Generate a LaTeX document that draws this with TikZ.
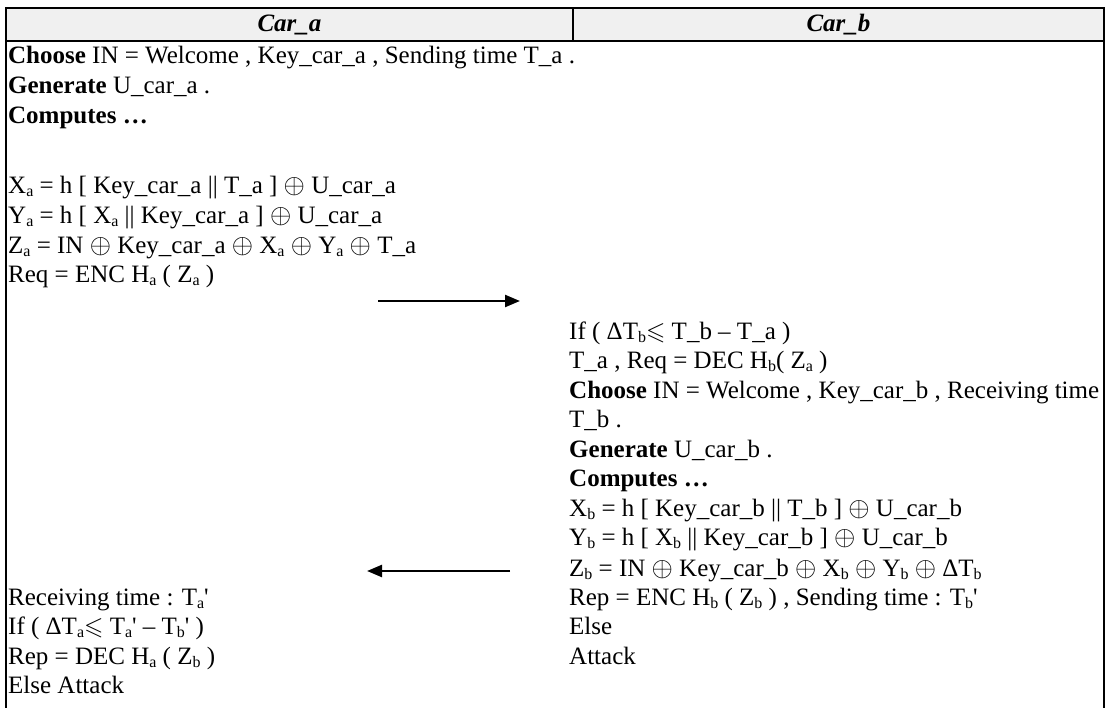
\documentclass[tikz,border=0pt]{standalone}
\usepackage{amssymb}
\usepackage{fontspec}
\setmainfont{Liberation Serif}
\usetikzlibrary{arrows.meta}
% lowered small letters used as subscripts
\newcommand\dn[1]{\raisebox{-0.12em}{\fontsize{16}{16}\selectfont #1}}
\newcommand\pr{\textquotesingle}
% exclusive-or sign, a little larger than the text-size one
\newcommand\xo{\scalebox{1.1}{$\oplus$}}
\newcommand\leqs{$\leqslant$}
\begin{document}
\begin{tikzpicture}[x=1pt,y=-1pt,
  frame/.style={line width=2pt,black},
  head/.style={font=\fontsize{25}{29.5}\selectfont\bfseries\itshape,anchor=center,inner sep=0pt},
  txt/.style={font=\fontsize{25}{29.5}\selectfont,anchor=base west,inner sep=0pt,
    text height=17pt,text depth=6pt},
  msg/.style={line width=2.4pt,-{Triangle[length=15pt,width=12pt]}}]
\useasboundingbox (0,0) rectangle (1105,708);
% header row and table frame
\fill[black!6] (6,8) rectangle (1104,41);
\draw[frame] (6,708) -- (6,8) -- (1104,8) -- (1104,708);
\draw[frame] (6,41) -- (1104,41);
\draw[frame] (573,8) -- (573,41);
\node[head] (ha) at (289.5,25) {Car\_a};
\node[head] (hb) at (838.5,25) {Car\_b};
% Car_a column
\node[txt] (a1) at (8,64) {\textbf{Choose} IN = Welcome , Key\_car\_a , Sending time T\_a .};
\node[txt] (a2) at (8,94) {\textbf{Generate} U\_car\_a .};
\node[txt] (a3) at (8,124) {\textbf{Computes …}};
\node[txt] (a4) at (8,194) {X\dn{a} = h [ Key\_car\_a || T\_a ] \xo{} U\_car\_a};
\node[txt] (a5) at (8,224) {Y\dn{a} = h [ X\dn{a} || Key\_car\_a ] \xo{} U\_car\_a};
\node[txt] (a6) at (8,254) {Z\dn{a} = IN \xo{} Key\_car\_a \xo{} X\dn{a} \xo{} Y\dn{a} \xo{} T\_a};
\node[txt] (a7) at (8,283) {Req = ENC H\dn{a} ( Z\dn{a} )};
\node[txt] (a8) at (8,605) {Receiving time : T\dn{a}\pr};
\node[txt] (a9) at (8,634.5) {If ( ΔT\dn{a}\leqs{} T\dn{a}\pr{} – T\dn{b}\pr{} )};
\node[txt] (a10) at (8,664) {Rep = DEC H\dn{a} ( Z\dn{b} )};
\node[txt] (a11) at (8,693.5) {Else Attack};
% Car_b column
\node[txt] (b1) at (569,339) {If ( ΔT\dn{b}\leqs{} T\_b – T\_a )};
\node[txt] (b2) at (569,368.5) {T\_a , Req = DEC H\dn{b}( Z\dn{a} )};
\node[txt] (b3) at (569,398) {\textbf{Choose} IN = Welcome , Key\_car\_b , Receiving time};
\node[txt] (b4) at (569,427.5) {T\_b .};
\node[txt] (b5) at (569,457) {\textbf{Generate} U\_car\_b .};
\node[txt] (b6) at (569,486.5) {\textbf{Computes …}};
\node[txt] (b7) at (569,516) {X\dn{b} = h [ Key\_car\_b || T\_b ] \xo{} U\_car\_b};
\node[txt] (b8) at (569,545.5) {Y\dn{b} = h [ X\dn{b} || Key\_car\_b ] \xo{} U\_car\_b};
\node[txt] (b9) at (569,576) {Z\dn{b} = IN \xo{} Key\_car\_b \xo{} X\dn{b} \xo{} Y\dn{b} \xo{} ΔT\dn{b}};
\node[txt] (b10) at (569,605) {Rep = ENC H\dn{b} ( Z\dn{b} ) , Sending time : T\dn{b}\pr};
\node[txt] (b11) at (569,634.5) {Else};
\node[txt] (b12) at (569,664) {Attack};
% message arrows
\coordinate (reqS) at (378,301);
\coordinate (reqE) at (520,301);
\coordinate (repS) at (510,571);
\coordinate (repE) at (367,571);
\draw[msg] (reqS) -- (reqE);
\draw[msg] (repS) -- (repE);
\end{tikzpicture}
\end{document}
